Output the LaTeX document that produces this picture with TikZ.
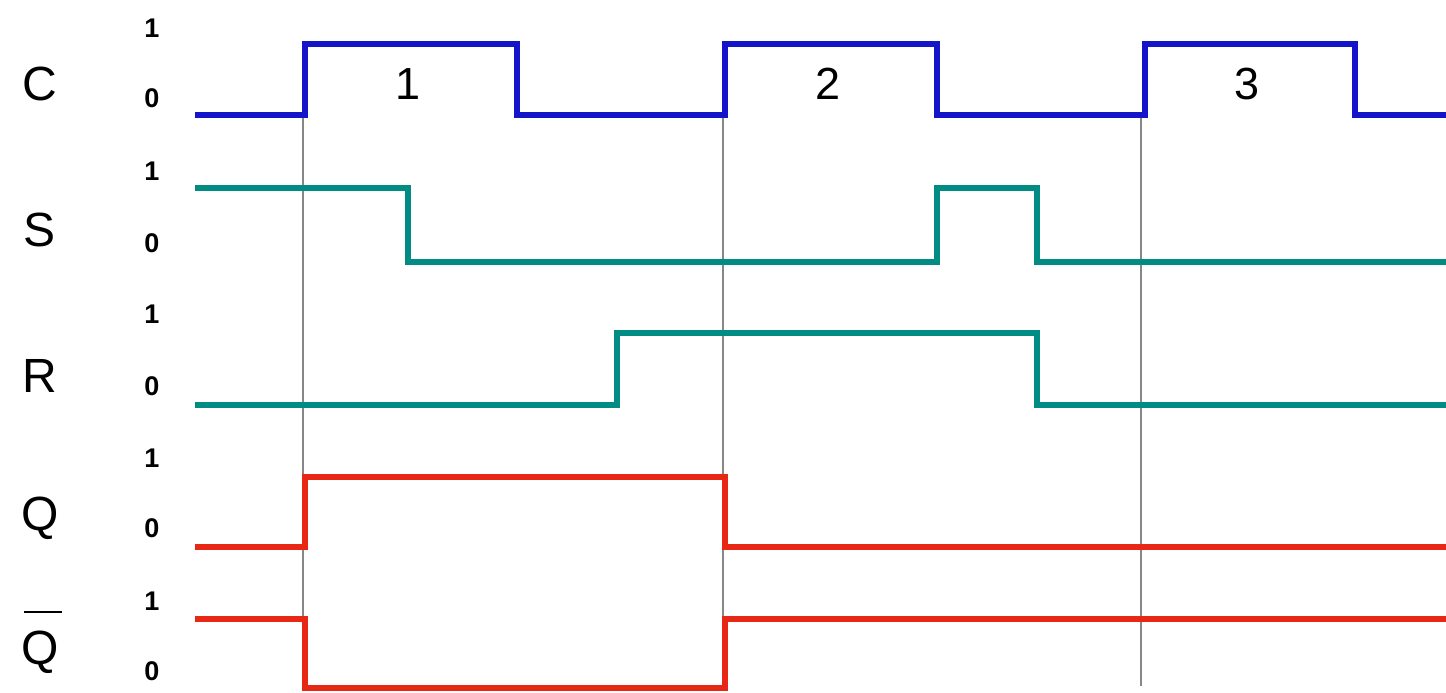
\documentclass[tikz,border=0pt]{standalone}
\usepackage{fontspec}
\setmainfont{Liberation Sans}
\definecolor{clkblue}{RGB}{20,20,200}
\definecolor{sigteal}{RGB}{0,140,130}
\definecolor{sigred}{RGB}{232,40,20}
\definecolor{gridgray}{RGB}{135,135,135}
\begin{document}
\begin{tikzpicture}[x=1pt,y=-1pt,
  wave/.style={line width=5.2pt,line join=miter},
  grid/.style={draw=gridgray,line width=1.8pt},
  sig/.style={font=\fontsize{48}{48}\selectfont,inner sep=0pt},
  lvl/.style={font=\bfseries\fontsize{27}{27}\selectfont,inner sep=0pt},
  num/.style={font=\fontsize{45}{45}\selectfont,inner sep=0pt}]
\useasboundingbox (0,0) rectangle (1446,693);
\fill[white] (0,0) rectangle (1446,693);
% grid lines
\draw[grid] (303,115) -- (303,690);
\draw[grid] (723,115) -- (723,690);
\draw[grid] (1141,115) -- (1141,686);
% C
\draw[wave,clkblue] (195,115) -- (305,115) -- (305,44) -- (517,44) -- (517,115) -- (725,115) -- (725,44) -- (937,44) -- (937,115) -- (1145,115) -- (1145,44) -- (1355,44) -- (1355,115) -- (1446,115);
% S
\draw[wave,sigteal] (195,188) -- (408,188) -- (408,262) -- (937,262) -- (937,188) -- (1037,188) -- (1037,262) -- (1446,262);
% R
\draw[wave,sigteal] (195,405) -- (617,405) -- (617,333) -- (1037,333) -- (1037,405) -- (1446,405);
% Q
\draw[wave,sigred] (195,547) -- (305,547) -- (305,477) -- (725,477) -- (725,547) -- (1446,547);
% Qbar
\draw[wave,sigred] (195,619) -- (305,619) -- (305,688) -- (725,688) -- (725,619) -- (1446,619);
% signal names
\node[sig] (lc) at (40,84) {C};
\node[sig] (ls) at (40,230) {S};
\node[sig] (lr) at (40,376) {R};
\node[sig] (lq) at (40,518) {Q};
\node[sig] (lqb) at (40,652) {Q};
\draw[line width=2.5pt] (24,612) -- (62,612);
% levels
\node[lvl] (c1) at (152,28) {1};
\node[lvl] (c0) at (152,98) {0};
\node[lvl] (s1) at (152,171) {1};
\node[lvl] (s0) at (152,243) {0};
\node[lvl] (r1) at (152,314) {1};
\node[lvl] (r0) at (152,386) {0};
\node[lvl] (q1) at (152,458) {1};
\node[lvl] (q0) at (152,528) {0};
\node[lvl] (qb1) at (152,601) {1};
\node[lvl] (qb0) at (152,671) {0};
% pulse numbers
\node[num] (p1) at (408,84) {1};
\node[num] (p2) at (828,84) {2};
\node[num] (p3) at (1247,84) {3};
\end{tikzpicture}
\end{document}
